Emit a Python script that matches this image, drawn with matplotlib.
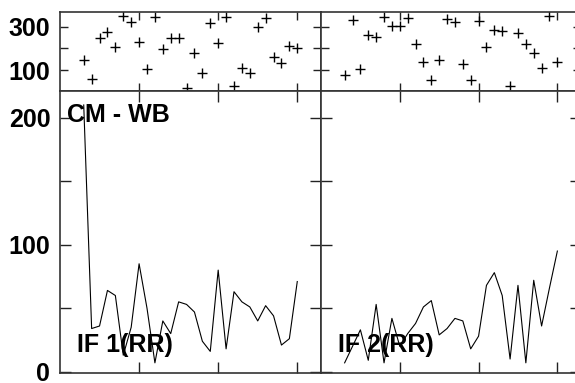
import matplotlib
matplotlib.use("Agg")
import matplotlib.pyplot as plt

plt.rcParams["font.family"] = ["Liberation Sans", "DejaVu Sans"]

# x positions shared by all panels
idx = list(range(3, 31))

# top panels: scatter values
top_left = [145, 57, 249, 274, 208, 351, 323, 231, 105, 346, 196, 249, 249, 20,
            180, 89, 318, 223, 346, 26, 108, 86, 297, 341, 159, 131, 212, 203]
top_right = [78, 329, 105, 262, 251, 346, 304, 303, 339, 221, 136, 55, 149, 334,
             320, 128, 55, 325, 205, 283, 279, 28, 271, 221, 180, 108, 351, 136]

# bottom panels: line values
bot_left = [210, 34, 36, 64, 60, 13, 35, 85, 50, 7, 40, 30, 55, 53,
            47, 24, 16, 80, 18, 63, 55, 51, 40, 52, 44, 21, 26, 71]
bot_right = [7, 20, 33, 9, 53, 7, 42, 20, 30, 38, 51, 56, 29, 34,
             42, 40, 18, 28, 68, 78, 60, 10, 68, 7, 72, 36, 66, 95]

labels = ["IF 1(RR)", "IF 2(RR)"]

W, H = 575, 383
fig = plt.figure(figsize=(W / 100, H / 100), dpi=100)


def px_axes(x0, y0, x1, y1):
    return fig.add_axes([x0 / W, 1 - y1 / H, (x1 - x0) / W, (y1 - y0) / H])


ax_tl = px_axes(60, 12, 321, 91)
ax_tr = px_axes(321, 12, 581, 91)
ax_bl = px_axes(60, 91, 321, 373)
ax_br = px_axes(321, 91, 581, 373)

for ax, vals in [(ax_tl, top_left), (ax_tr, top_right)]:
    ax.plot(idx, vals, linestyle="none", marker="+", color="black",
            markersize=7, markeredgewidth=1.0)
    ax.set_ylim(4, 368)
    ax.set_yticks([100, 200, 300])
    ax.tick_params(length=6)

for ax, vals in [(ax_bl, bot_left), (ax_br, bot_right)]:
    ax.plot(idx, vals, color="black", linewidth=0.8)
    ax.set_ylim(-1, 221)
    ax.set_yticks([0, 50, 100, 150, 200])
    ax.tick_params(length=8)

for ax in [ax_tl, ax_tr, ax_bl, ax_br]:
    ax.set_xlim(0, 33)
    ax.set_xticks([10, 20, 30])
    ax.set_xticklabels([])
    ax.tick_params(direction="in", top=True, right=True, width=1.0,
                   color="#222222", labelsize=18, pad=7)
    for s in ax.spines.values():
        s.set_color("#333333")
        s.set_linewidth(1.2)

ax_tl.set_yticklabels(["100", "", "300"], fontweight="bold")
ax_bl.set_yticklabels(["0", "", "100", "", "200"], fontweight="bold")
ax_tr.set_yticklabels([])
ax_br.set_yticklabels([])

ax_bl.text(0.027, 0.89, "CM - WB", transform=ax_bl.transAxes, fontsize=18,
           fontweight="bold", ha="left", va="baseline", zorder=5)
ax_bl.text(0.065, 0.0745, labels[0], transform=ax_bl.transAxes, fontsize=18,
           fontweight="bold", ha="left", va="baseline", zorder=5)
ax_br.text(0.065, 0.0745, labels[1], transform=ax_br.transAxes, fontsize=18,
           fontweight="bold", ha="left", va="baseline", zorder=5)

fig.savefig("out.png", dpi=100)
